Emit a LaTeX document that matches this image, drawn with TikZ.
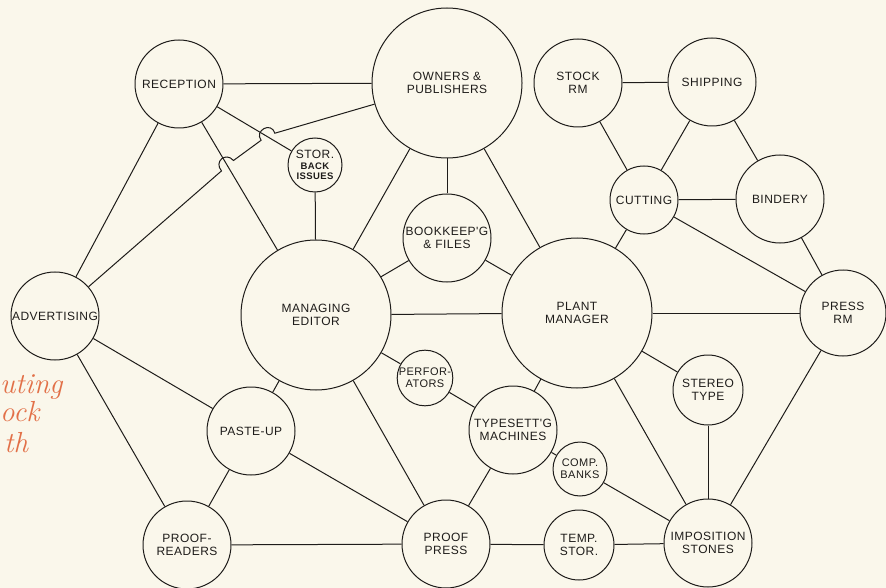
\documentclass[tikz,border=0pt]{standalone}
\usepackage{fontspec}
\newfontfamily\lbl[LetterSpace=4]{Liberation Sans}
\definecolor{paper}{RGB}{250,247,235}
\definecolor{ink}{RGB}{30,28,26}
\definecolor{hand}{RGB}{226,112,72}
\begin{document}
\begin{tikzpicture}[x=1pt,y=-1pt,
  stn/.style={circle, draw=ink, line width=1pt, inner sep=0pt, align=center, text=ink,
              font=\lbl\fontsize{12}{12.7}\selectfont},
  smallstn/.style={stn, font=\lbl\fontsize{11}{12}\selectfont},
  conn/.style={draw=ink, line width=1pt},
  handtext/.style={anchor=base west, inner sep=0pt, text=hand,
              font=\itshape\fontsize{29}{29}\selectfont}]
\fill[paper] (0,0) rectangle (886,588);
\useasboundingbox (0,0) rectangle (886,588);
\clip (0,0) rectangle (886,588);

% handwritten fragments at the left edge
\node[handtext] (h1) at (0,393) {uting};
\node[handtext] (h2) at (0,421) {ock};
\node[handtext] (h3) at (4,452) {th};

% stations
\node[stn, minimum size=88pt]  (rec) at (179,84)  {RECEPTION};
\node[stn, minimum size=150pt] (own) at (447,83)  {OWNERS \&\\PUBLISHERS};
\node[stn, minimum size=88pt]  (stk) at (578,83)  {STOCK\\RM};
\node[stn, minimum size=88pt]  (shp) at (712,82)  {SHIPPING};
\node[stn, minimum size=54pt, font=\lbl\bfseries\fontsize{9.5}{10.8}\selectfont]
      (sto) at (315,165) {{\mdseries\fontsize{12}{12}\selectfont STOR.}\\BACK\\ISSUES};
\node[stn, minimum size=68pt]  (cut) at (644,200) {CUTTING};
\node[stn, minimum size=88pt]  (bin) at (780,199) {BINDERY};
\node[stn, minimum size=88pt]  (bkp) at (447,238) {BOOKKEEP'G\\\& FILES};
\node[stn, minimum size=88pt]  (adv) at (55,316)  {ADVERTISING};
\node[stn, minimum size=150pt] (me)  at (316,315) {MANAGING\\EDITOR};
\node[stn, minimum size=150pt] (pm)  at (577,313) {PLANT\\MANAGER};
\node[stn, minimum size=86pt]  (prs) at (843,313) {PRESS\\RM};
\node[smallstn, minimum size=54pt] (per) at (425,378) {PERFOR-\\ATORS};
\node[stn, minimum size=70pt]  (ste) at (708,390) {STEREO\\TYPE};
\node[stn, minimum size=88pt]  (pst) at (251,431) {PASTE-UP};
\node[stn, minimum size=88pt]  (typ) at (513,430) {TYPESETT'G\\MACHINES};
\node[smallstn, minimum size=54pt] (cmp) at (580,469) {COMP.\\BANKS};
\node[stn, minimum size=88pt]  (prd) at (187,545) {PROOF-\\READERS};
\node[stn, minimum size=88pt]  (ppr) at (446,544) {PROOF\\PRESS};
\node[stn, minimum size=70pt]  (tmp) at (579,545) {TEMP.\\STOR.};
\node[stn, minimum size=88pt]  (imp) at (708,543) {IMPOSITION\\STONES};

% connectors
\draw[conn] (rec) -- (own);
\draw[conn] (rec) -- (adv);
\draw[conn] (rec) -- (me);
\draw[conn] (rec) -- (sto);
\draw[conn] (sto) -- (me);
\draw[conn] (own) -- (me);
\draw[conn] (own) -- (bkp);
\draw[conn] (own) -- (pm);
\draw[conn] (bkp) -- (me);
\draw[conn] (bkp) -- (pm);
\draw[conn] (me) -- (pm);
\draw[conn] (me) -- (per);
\draw[conn] (me) -- (pst);
\draw[conn] (me) -- (ppr);
\draw[conn] (adv) -- (pst);
\draw[conn] (adv) -- (prd);
\draw[conn] (pst) -- (prd);
\draw[conn] (pst) -- (ppr);
\draw[conn] (prd) -- (ppr);
\draw[conn] (per) -- (typ);
\draw[conn] (typ) -- (pm);
\draw[conn] (typ) -- (cmp);
\draw[conn] (typ) -- (ppr);
\draw[conn] (ppr) -- (tmp);
\draw[conn] (tmp) -- (imp);
\draw[conn] (cmp) -- (imp);
\draw[conn] (pm) -- (imp);
\draw[conn] (pm) -- (ste);
\draw[conn] (ste) -- (imp);
\draw[conn] (imp) -- (prs);
\draw[conn] (pm) -- (prs);
\draw[conn] (pm) -- (cut);
\draw[conn] (cut) -- (prs);
\draw[conn] (cut) -- (bin);
\draw[conn] (bin) -- (prs);
\draw[conn] (cut) -- (stk);
\draw[conn] (cut) -- (shp);
\draw[conn] (stk) -- (shp);
\draw[conn] (shp) -- (bin);
% advertising to owners, hopping over two lines
\draw[conn] (adv) -- (221.5,170.9)
   .. controls (213.6,161.8) and (225.6,151.4) .. (233.5,160.5)
   -- (261.1,140.3)
   .. controls (253.9,130.7) and (271.2,121.1) .. (274.9,133.2)
   -- (own);
\end{tikzpicture}
\end{document}
